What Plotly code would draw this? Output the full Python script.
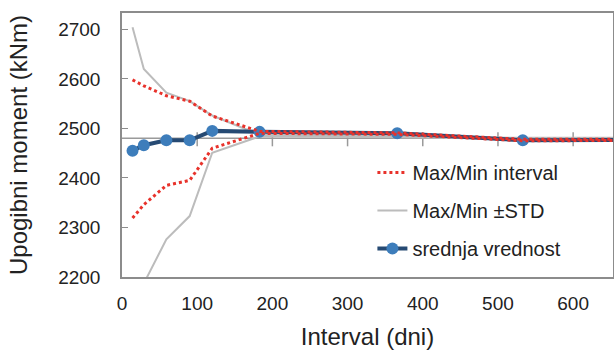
import plotly.graph_objects as go

# Data
interval_days = [14, 29, 59, 90, 120, 183, 366, 533, 730]
mean_value = [2455, 2466, 2476, 2476, 2495, 2493, 2490, 2476, 2477]
minmax_upper = [2598, 2586, 2566, 2555, 2525, 2494, 2491, 2478, 2478]
minmax_lower = [2319, 2346, 2385, 2395, 2460, 2490, 2488, 2475, 2476]
std_upper = [2704, 2620, 2572, 2555, 2526, 2487, 2484, 2481, 2481]
std_lower = [2110, 2187, 2276, 2323, 2451, 2484, 2482, 2479, 2480]

x_ticks = [0, 100, 200, 300, 400, 500, 600]
y_ticks = [2200, 2300, 2400, 2500, 2600, 2700]
axis_cross = 2480

FONT = "Liberation Sans, Arial, sans-serif"
TXT = "#222222"

fig = go.Figure()

# gray ±STD
fig.add_trace(go.Scatter(
    x=interval_days + [None] + interval_days,
    y=std_upper + [None] + std_lower,
    mode="lines", name="Max/Min ±STD",
    line=dict(color="#bcbcbc", width=2),
    legendgroup="b", legendrank=2,
))
# mean
fig.add_trace(go.Scatter(
    x=interval_days, y=mean_value,
    mode="lines+markers", name="srednja vrednost",
    line=dict(color="#264a73", width=4),
    marker=dict(color="#3d7dbb", size=12),
    legendgroup="c", legendrank=3,
))
# red dotted min/max
fig.add_trace(go.Scatter(
    x=interval_days + [None] + interval_days,
    y=minmax_upper + [None] + minmax_lower,
    mode="lines", name="Max/Min interval",
    line=dict(color="#e8322b", width=3, dash="dot"),
    legendgroup="a", legendrank=1,
))

shapes = [dict(type="line", xref="paper", yref="y", x0=0, x1=1,
               y0=axis_cross, y1=axis_cross,
               line=dict(color="#9a9a9a", width=1.5), layer="below")]
for t in x_ticks[1:]:
    shapes.append(dict(type="line", xref="x", yref="y", ysizemode="pixel",
                       yanchor=axis_cross, x0=t, x1=t, y0=-8, y1=6,
                       line=dict(color="#9a9a9a", width=1.5), layer="below"))

fig.update_layout(
    width=614, height=354,
    margin=dict(l=122, r=1, t=13, b=77),
    paper_bgcolor="white", plot_bgcolor="white",
    font=dict(family=FONT, color=TXT),
    shapes=shapes,
    showlegend=True,
    legend=dict(x=0.51, y=0.47, xanchor="left", yanchor="top",
                font=dict(size=20, family=FONT, color=TXT),
                bgcolor="rgba(255,255,255,0)", tracegroupgap=9,
                traceorder="grouped"),
    xaxis=dict(range=[0, 653], tickvals=x_ticks, ticks="", automargin=False,
               showgrid=False, zeroline=False, ticklabelstandoff=8,
               showline=True, mirror=True, linecolor="#8c8c8c", linewidth=1.5,
               tickfont=dict(size=19, family=FONT, color=TXT),
               title=dict(text="Interval (dni)", font=dict(size=24, family=FONT, color=TXT),
                          standoff=16)),
    yaxis=dict(range=[2200, 2733], tickvals=y_ticks, ticks="inside", ticklen=6,
               tickcolor="#8c8c8c", automargin=False, ticklabelstandoff=16,
               showgrid=False, zeroline=False,
               showline=True, mirror=True, linecolor="#8c8c8c", linewidth=1.5,
               tickfont=dict(size=19, family=FONT, color=TXT),
               title=dict(text="Upogibni moment (kNm)", font=dict(size=24, family=FONT, color=TXT),
                          standoff=24)),
)

fig.write_html("out.html",
               config={"displayModeBar": False},
               post_script="document.body.style.margin='0px';document.body.style.overflow='hidden';")
